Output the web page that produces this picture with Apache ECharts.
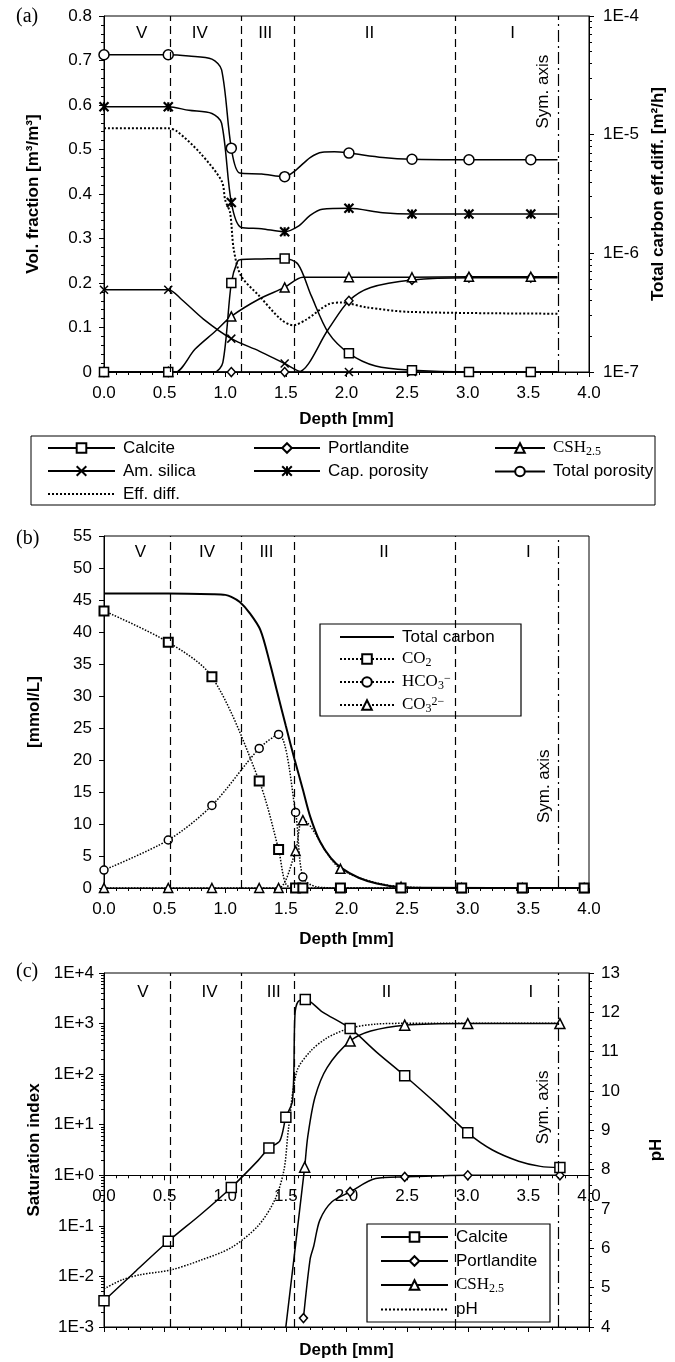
<!DOCTYPE html>
<html>
<head>
<meta charset="utf-8">
<script src="https://cdn.jsdelivr.net/npm/echarts@6/dist/echarts.min.js"></script>
<style>
  html, body { margin: 0; padding: 0; background: #fff; }
  #chart { width: 675px; height: 1362px; }
</style>
</head>
<body>
<div id="chart"></div>
<script>
// ---- zones (shared by all three panels) ----
const zoneNames = ["V", "IV", "III", "II", "I"];
const zoneBounds = [0.55, 1.13, 1.57, 2.9];
const symAxis = 3.75;

// ---- panel (a): volume fractions + effective diffusivity ----
const marksA = [0, 0.53, 1.05, 1.49, 2.02, 2.54, 3.01, 3.52];
const calciteA = [[0, 0], [0.53, 0], [0.91, 0], [0.98, 0.021], [1.05, 0.2], [1.1, 0.248], [1.13, 0.253], [1.3, 0.254], [1.49, 0.255], [1.6, 0.242], [1.71, 0.171], [1.85, 0.0885], [2.02, 0.042], [2.24, 0.0135], [2.54, 0.004], [3.01, 0], [3.52, 0], [3.74, 0]];
const portlanditeA = [[0, 0], [0.53, 0], [1.05, 0], [1.49, 0], [1.6, 0], [1.85, 0.096], [2.02, 0.16], [2.2, 0.19], [2.54, 0.207], [3.01, 0.212], [3.52, 0.212], [3.74, 0.212]];
const cshA = [[0, 0], [0.53, 0], [0.59, 0], [0.75, 0.051], [0.92, 0.092], [1.05, 0.125], [1.28, 0.164], [1.49, 0.19], [1.64, 0.213], [2.02, 0.213], [2.54, 0.213], [3.01, 0.214], [3.52, 0.214], [3.74, 0.214]];
const amSilicaA = [[0, 0.185], [0.53, 0.185], [0.64, 0.163], [0.82, 0.119], [1.05, 0.075], [1.28, 0.047], [1.49, 0.019], [1.64, 0], [2.02, 0], [2.54, 0], [3.01, 0], [3.52, 0], [3.74, 0]];
const capPorosityA = [[0, 0.596], [0.53, 0.596], [0.7, 0.588], [0.89, 0.581], [0.97, 0.559], [1.05, 0.381], [1.13, 0.325], [1.3, 0.322], [1.49, 0.315], [1.6, 0.327], [1.7, 0.352], [1.8, 0.366], [2.02, 0.368], [2.3, 0.358], [2.54, 0.355], [3.01, 0.355], [3.52, 0.355], [3.74, 0.355]];
const totPorosityA = [[0, 0.713], [0.53, 0.713], [0.7, 0.71], [0.89, 0.703], [0.97, 0.679], [1.05, 0.503], [1.12, 0.447], [1.3, 0.445], [1.49, 0.439], [1.575, 0.452], [1.7, 0.482], [1.8, 0.494], [1.9, 0.495], [2.02, 0.492], [2.3, 0.482], [2.54, 0.478], [3.01, 0.477], [3.52, 0.477], [3.74, 0.477]];
const effDiffA = [[0, 1.13e-5], [0.53, 1.13e-5], [0.6, 1.07e-5], [0.79, 7.06e-6], [0.97, 4.07e-6], [1.0, 2.8e-6], [1.04, 2.2e-6], [1.07, 1.08e-6], [1.13, 6.46e-7], [1.28, 4.38e-7], [1.46, 2.77e-7], [1.56, 2.48e-7], [1.67, 2.77e-7], [1.85, 3.72e-7], [1.96, 3.85e-7], [2.17, 3.5e-7], [2.52, 3.21e-7], [3.74, 3.1e-7]];

// ---- panel (b): carbon species ----
const marksB = [0, 0.53, 0.89, 1.28, 1.44, 1.58, 1.64, 1.95, 2.45, 2.95, 3.45, 3.96];
const totalCarbonB = [[0, 46], [0.53, 46], [0.9, 45.9], [1.0, 45.8], [1.05, 45.5], [1.12, 44.7], [1.2, 43], [1.29, 40.3], [1.37, 35], [1.43, 30.5], [1.5, 25.3], [1.57, 20.2], [1.64, 15.4], [1.7, 11.2], [1.78, 7.3], [1.87, 4.7], [1.96, 3.1], [2.1, 1.6], [2.25, 0.7], [2.43, 0.15], [2.6, 0.02], [4.0, 0]];
const co2B = [[0, 43.3], [0.53, 38.4], [0.89, 33.0], [1.28, 16.7], [1.44, 6.0], [1.5, 0.6], [1.58, 0], [1.64, 0], [1.95, 0], [2.45, 0], [2.95, 0], [3.45, 0], [3.96, 0]];
const hco3B = [[0, 2.8], [0.53, 7.5], [0.89, 12.9], [1.28, 21.8], [1.44, 24.0], [1.58, 11.8], [1.64, 1.7], [1.75, 0.2], [1.95, 0], [2.45, 0], [2.95, 0], [3.45, 0], [3.96, 0]];
const co3B = [[0, 0], [0.53, 0], [0.89, 0], [1.28, 0], [1.44, 0], [1.58, 5.8], [1.64, 10.6], [1.95, 3.0], [2.45, 0.2], [2.95, 0], [3.45, 0], [3.96, 0]];

// ---- panel (c): saturation indices + pH ----
const calciteMarksC = [0, 0.53, 1.05, 1.36, 1.5, 1.66, 2.03, 2.48, 3.0, 3.76];
const calciteC = [[0, 3.3e-3], [0.25, 0.012], [0.53, 0.0495], [0.8, 0.17], [1.05, 0.575], [1.27, 1.95], [1.36, 3.45], [1.45, 4.8], [1.5, 14], [1.555, 30], [1.575, 1500], [1.6, 2700], [1.66, 3000], [1.8, 1700], [2.03, 800], [2.25, 270], [2.48, 93], [2.75, 25], [3.0, 6.9], [3.2, 3.2], [3.42, 1.9], [3.6, 1.5], [3.76, 1.42]];
const portMarksC = [1.645, 2.03, 2.48, 3.0, 3.76];
const portlanditeC = [[1.645, 1.5e-3], [1.7, 0.022], [1.73, 0.04], [1.78, 0.13], [1.88, 0.3], [2.03, 0.47], [2.24, 0.86], [2.48, 0.93], [3.0, 1.0], [3.76, 1.0]];
const cshMarksC = [1.655, 2.03, 2.48, 3.0, 3.76];
const cshC = [[1.48, 4e-4], [1.655, 1.45], [1.68, 5.7], [1.74, 35], [1.84, 135], [2.03, 450], [2.2, 710], [2.48, 930], [3.0, 1000], [3.76, 1000]];
const phC = [[0, 4.97], [0.15, 5.2], [0.3, 5.33], [0.55, 5.45], [0.8, 5.7], [1.05, 6.02], [1.27, 6.57], [1.41, 7.24], [1.485, 8.0], [1.52, 9.0], [1.59, 10.5], [1.7, 11.0], [1.84, 11.35], [2.03, 11.6], [2.24, 11.7], [2.48, 11.72], [3.0, 11.72], [3.76, 11.72]];

const sans = "Liberation Sans, Arial, sans-serif";
const serif = "Liberation Serif, DejaVu Serif, serif";
const blk = "#000";

// only the marked depths get a symbol, the rest are plain curve points
function curve(name, pts, marks, symbol, size, xi, yi, extra) {
  return Object.assign({
    name: name,
    type: "line",
    xAxisIndex: xi,
    yAxisIndex: yi,
    data: pts.map(p => (marks.indexOf(p[0]) >= 0 ? p : { value: p, symbol: "none" })),
    symbol: symbol,
    symbolSize: size,
    showSymbol: true,
    smooth: 0.3,
    lineStyle: { color: blk, width: 1.5 },
    itemStyle: { color: "#fff", borderColor: blk, borderWidth: 1.5 },
    z: 3,
  }, extra || {});
}

function zones(xi, yi, centres, yLab, symPos) {
  const data = centres.map((c, i) => ({ value: [c, yLab], label: { formatter: zoneNames[i] } }));
  data.push({ value: symPos, label: { formatter: "Sym. axis", rotate: 90 } });
  return {
    type: "scatter",
    xAxisIndex: xi,
    yAxisIndex: yi,
    symbolSize: 0,
    silent: true,
    z: 2,
    itemStyle: { opacity: 1 },
    data: data,
    label: { show: true, position: "inside", color: blk, fontSize: 17, fontFamily: sans, textBorderWidth: 0, textBorderColor: "transparent" },
    markLine: {
      silent: true,
      symbol: "none",
      label: { show: false },
      lineStyle: { color: blk, type: [8, 5], width: 1.2 },
      data: zoneBounds.map(b => ({ xAxis: b })).concat([{ xAxis: symAxis, lineStyle: { type: [12, 4, 2, 4] } }]),
    },
  };
}

function depthAxis(grid, extra) {
  return Object.assign({
    type: "value",
    gridIndex: grid,
    min: 0,
    max: 4,
    interval: 0.5,
    axisLine: { onZero: false, lineStyle: { color: blk, width: 1 } },
    axisTick: { length: 5, lineStyle: { color: blk } },
    minorTick: { show: true, splitNumber: 5, length: 3, lineStyle: { color: blk } },
    splitLine: { show: false },
    axisLabel: { formatter: v => v.toFixed(1), fontSize: 17, color: blk, margin: 13, fontFamily: sans },
    name: "Depth [mm]",
    nameLocation: "middle",
    nameGap: 39,
    nameTextStyle: { fontWeight: "bold", fontSize: 17, color: blk, fontFamily: sans },
  }, extra || {});
}

function valueAxis(grid, pos, extra) {
  return Object.assign({
    gridIndex: grid,
    position: pos,
    axisLine: { show: true, lineStyle: { color: blk } },
    axisTick: { show: true, length: 5, lineStyle: { color: blk } },
    splitLine: { show: false },
    axisLabel: { fontSize: 17, color: blk, margin: 12, fontFamily: sans },
    nameLocation: "middle",
    nameTextStyle: { fontWeight: "bold", fontSize: 17, color: blk, fontFamily: sans },
  }, extra);
}

const expA = v => "1E" + Math.round(Math.log10(v));
const expC = v => {
  const e = Math.round(Math.log10(v));
  return "1E" + (e >= 0 ? "+" : "") + e;
};

const legendLabels = {
  "CSH2.5": "{s|CSH}{b|2.5}",
  "CSH2.5 ": "{s|CSH}{b|2.5}",
  "Calcite ": "Calcite",
  "Portlandite ": "Portlandite",
  "CO2": "{s|CO}{b|2}",
  "HCO3-": "{s|HCO}{b|3}{p|−}",
  "CO3 2-": "{s|CO}{b|3}{p|2−}",
};
const rich = {
  s: { fontFamily: serif, fontSize: 17, color: blk },
  b: { fontFamily: serif, fontSize: 12, color: blk, padding: [7, 0, 0, 0] },
  p: { fontFamily: serif, fontSize: 12, color: blk, padding: [0, 0, 7, 0] },
};
// lines drawn without markers: hide the legend symbol
const lineOnly = n => ({ name: n, itemStyle: { color: "transparent", borderColor: "transparent", borderWidth: 0, opacity: 0 } });
function legend(names, left, top, width, gap) {
  return {
    orient: "vertical",
    left: left,
    top: top,
    padding: 0,
    itemWidth: width,
    itemHeight: 12,
    itemGap: gap,
    data: names,
    formatter: n => legendLabels[n] || n,
    textStyle: { fontSize: 17, color: blk, fontFamily: sans, lineHeight: 18, padding: [0, 0, 0, 3], rich: rich },
    selectedMode: false,
  };
}

const gridBox = { show: true, borderColor: blk, borderWidth: 1, outerBoundsMode: "none" };
const hC = 354;

const option = {
  animation: false,
  backgroundColor: "#fff",
  textStyle: { fontFamily: sans },
  grid: [
    Object.assign({ left: 104, top: 16, width: 485, height: 356 }, gridBox),
    Object.assign({ left: 104, top: 536, width: 485, height: 352 }, gridBox),
    Object.assign({ left: 104, top: 973, width: 485, height: hC }, gridBox),
    // upper part of panel (c): its bottom edge is the 1E+0 level
    { left: 104, top: 973, width: 485, height: hC * 4 / 7, show: false, outerBoundsMode: "none" },
  ],
  xAxis: [
    depthAxis(0),
    depthAxis(1, { nameGap: 43 }),
    depthAxis(2, { axisLabel: { show: false }, nameGap: 15 }),
    depthAxis(3, { name: "" }),
  ],
  yAxis: [
    valueAxis(0, "left", {
      type: "value", min: 0, max: 0.8, interval: 0.1,
      axisLabel: { fontSize: 17, color: blk, margin: 12, fontFamily: sans, formatter: v => (v === 0 ? "0" : v.toFixed(1)) },
      minorTick: { show: true, splitNumber: 5, length: 3, lineStyle: { color: blk } },
      name: "Vol. fraction [m³/m³]", nameGap: 62,
    }),
    valueAxis(0, "right", {
      type: "log", logBase: 10, min: 1e-7, max: 1e-4, splitNumber: 3,
      axisLabel: { fontSize: 17, color: blk, margin: 14, fontFamily: sans, formatter: expA },
      minorTick: { show: true, splitNumber: 9, length: 3, lineStyle: { color: blk } },
      name: "Total carbon eff.diff. [m²/h]", nameGap: 59,
    }),
    valueAxis(1, "left", {
      type: "value", min: 0, max: 55, interval: 5,
      name: "[mmol/L]", nameGap: 61,
    }),
    valueAxis(2, "left", {
      type: "log", logBase: 10, min: 1e-3, max: 1e4, splitNumber: 7,
      axisLabel: { fontSize: 17, color: blk, margin: 10, fontFamily: sans, formatter: expC },
      minorTick: { show: true, splitNumber: 9, length: 3, lineStyle: { color: blk } },
      name: "Saturation index", nameGap: 61,
    }),
    valueAxis(2, "right", {
      type: "value", min: 4, max: 13, interval: 1,
      axisLabel: { fontSize: 17, color: blk, margin: 12, fontFamily: sans },
      minorTick: { show: true, splitNumber: 5, length: 3, lineStyle: { color: blk } },
      name: "pH", nameGap: 59,
    }),
    { type: "value", gridIndex: 3, show: false, min: 0, max: 1 },
  ],
  legend: [
    legend(["Calcite", "Am. silica", lineOnly("Eff. diff.")], 47, 439, 67, 5),
    legend(["Portlandite", "Cap. porosity"], 253, 439, 66, 5),
    legend(["CSH2.5", "Total porosity"], 494, 439, 50, 5),
    legend([lineOnly("Total carbon"), "CO2", "HCO3-", "CO3 2-"], 339, 628, 54, 4),
    legend(["Calcite ", "Portlandite ", "CSH2.5 ", lineOnly("pH")], 380, 1228, 67, 6),
  ],
  graphic: [
    { type: "rect", z: 3, shape: { x: 31, y: 436, width: 624, height: 69 }, style: { fill: "#fff", stroke: blk, lineWidth: 1 } },
    { type: "rect", z: 3, shape: { x: 320, y: 624, width: 201, height: 92 }, style: { fill: "#fff", stroke: blk, lineWidth: 1.2 } },
    { type: "rect", z: 3, shape: { x: 367, y: 1224, width: 183, height: 98 }, style: { fill: "#fff", stroke: blk, lineWidth: 1.2 } },
    { type: "text", left: 16, top: 7, style: { text: "(a)", font: "20px " + serif, fill: blk } },
    { type: "text", left: 16, top: 529, style: { text: "(b)", font: "20px " + serif, fill: blk } },
    { type: "text", left: 16, top: 962, style: { text: "(c)", font: "20px " + serif, fill: blk } },
  ],
  series: [
    // (a)
    zones(0, 0, [0.31, 0.79, 1.33, 2.19, 3.37], 0.762, [3.62, 0.63]),
    curve("Eff. diff.", effDiffA, [], "none", 0, 0, 1, { lineStyle: { color: blk, width: 2, type: "dotted" } }),
    curve("Am. silica", amSilicaA, marksA, "path://M0,0L10,10M10,0L0,10", 8, 0, 0),
    curve("Cap. porosity", capPorosityA, marksA, "path://M0,0L10,10M10,0L0,10M5,0L5,10", 9, 0, 0, { itemStyle: { color: "#fff", borderColor: blk, borderWidth: 2.2 } }),
    curve("Total porosity", totPorosityA, marksA, "circle", 10, 0, 0),
    curve("Portlandite", portlanditeA, marksA, "diamond", [8, 9], 0, 0),
    curve("CSH2.5", cshA, marksA, "triangle", 9, 0, 0),
    curve("Calcite", calciteA, marksA, "rect", 9, 0, 0),
    // (b)
    zones(1, 2, [0.3, 0.85, 1.34, 2.31, 3.5], 52.4, [3.63, 15.9]),
    curve("Total carbon", totalCarbonB, [], "none", 0, 1, 2, { lineStyle: { color: blk, width: 2 } }),
    curve("HCO3-", hco3B, marksB, "circle", 8, 1, 2, { lineStyle: { color: blk, width: 1.5, type: "dotted" } }),
    curve("CO3 2-", co3B, marksB, "triangle", 9, 1, 2, { lineStyle: { color: blk, width: 1.5, type: "dotted" } }),
    curve("CO2", co2B, marksB, "rect", 9, 1, 2, { lineStyle: { color: blk, width: 1.5, type: "dotted" }, itemStyle: { color: "#fff", borderColor: blk, borderWidth: 2 } }),
    // (c)
    zones(2, 3, [0.32, 0.87, 1.4, 2.33, 3.52], 4200, [3.62, 22]),
    curve("pH", phC, [], "none", 0, 2, 4, { lineStyle: { color: blk, width: 1.5, type: "dotted" } }),
    curve("Portlandite ", portlanditeC, portMarksC, "diamond", [8, 9], 2, 3),
    curve("CSH2.5 ", cshC, cshMarksC, "triangle", 10, 2, 3),
    curve("Calcite ", calciteC, calciteMarksC, "rect", 10, 2, 3),
  ],
};

const chart = echarts.init(document.getElementById("chart"), null, { renderer: "canvas" });
chart.setOption(option);
window.addEventListener("resize", () => chart.resize());
</script>
</body>
</html>
